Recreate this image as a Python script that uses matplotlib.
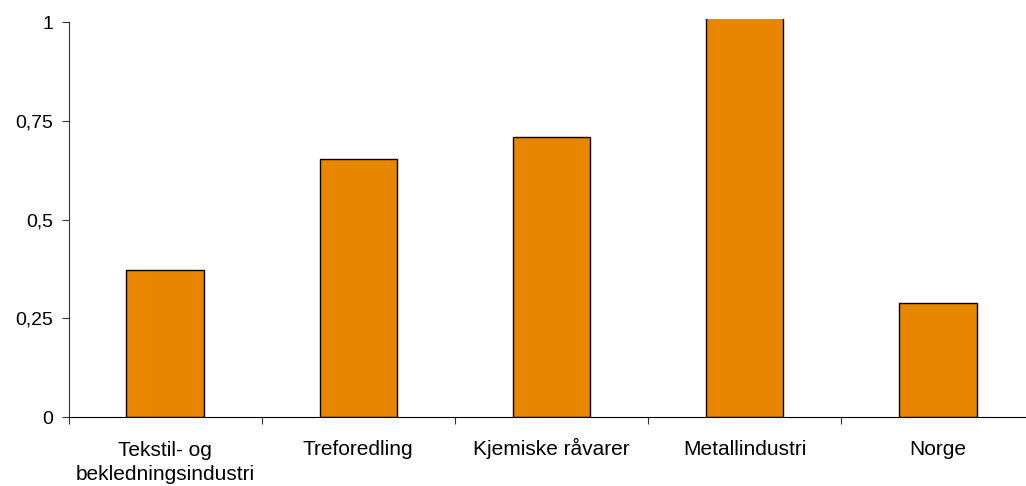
import matplotlib
matplotlib.use("Agg")
import matplotlib.pyplot as plt
import matplotlib.transforms as mtransforms
import numpy as np
from matplotlib.ticker import FixedLocator

categories = ["Tekstil- og\nbekledningsindustri", "Treforedling", "Kjemiske råvarer",
              "Metallindustri", "Norge"]
values = [0.372, 0.653, 0.709, 1.05, 0.289]
yticks = [0, 0.25, 0.5, 0.75, 1]
ytick_labels = ["0", "0,25", "0,5", "0,75", "1"]

plt.rcParams["font.family"] = ["Liberation Sans", "DejaVu Sans"]

fig = plt.figure(figsize=(10.26, 4.86), dpi=100)
ax = fig.add_axes([68.5 / 1026, 69 / 486, 966 / 1026, 398 / 486])

x = np.arange(len(categories))
ax.bar(x, values, width=0.4, color="#E88600", edgecolor="black", linewidth=1.0, zorder=2)

ax.set_xlim(-0.5, len(categories) - 0.5)
ax.set_ylim(0, 1.0076)

ax.spines["top"].set_visible(False)
ax.spines["right"].set_visible(False)
ax.spines["left"].set_bounds(0, 1)
ax.spines["left"].set_color("#333333")
ax.spines["bottom"].set_color("black")

ax.set_yticks(yticks)
ax.set_yticklabels(ytick_labels, fontsize=14)
ax.tick_params(axis="y", length=5, width=0.8, color="#333333", pad=6)

ax.set_xticks(x)
ax.set_xticklabels(categories, fontsize=15, linespacing=1.32)
ax.tick_params(axis="x", which="major", length=0, pad=27.5)
ax.xaxis.set_minor_locator(FixedLocator(np.arange(len(categories) + 1) - 0.5))
ax.tick_params(axis="x", which="minor", length=5, width=0.8, color="#333333")

# category labels share a baseline so accented letters don't shift them;
# wrapped labels are moved down so their first line sits on that baseline
renderer = fig.canvas.get_renderer()
for lbl in ax.get_xticklabels():
    lbl.set_verticalalignment("baseline")
    if "\n" in lbl.get_text():
        _, layout, _ = lbl._get_layout(renderer)
        drop = layout[0][3] - layout[-1][3]
        lbl.set_transform(lbl.get_transform()
                          + mtransforms.Affine2D().translate(0, -drop - 1))

fig.savefig("out.png", dpi=100)
